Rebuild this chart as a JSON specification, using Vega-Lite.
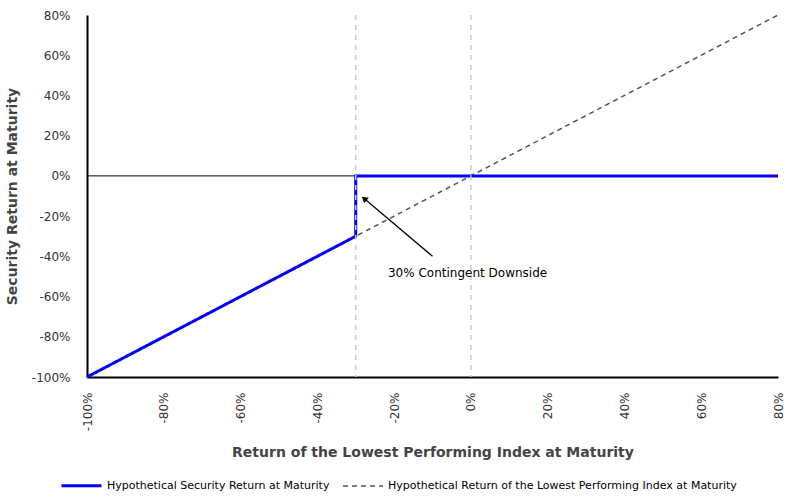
{
  "$schema": "https://vega.github.io/schema/vega-lite/v6.json",
  "width": 691,
  "height": 362,
  "autosize": {"type": "none"},
  "padding": {"left": 87, "top": 15, "right": 22, "bottom": 123},
  "config": {
    "font": "DejaVu Sans",
    "view": {"stroke": null},
    "axis": {"grid": false, "ticks": false, "labelFontSize": 12, "labelColor": "#333", "titleFontSize": 14, "titleFontWeight": "bold", "titleColor": "#444", "domainColor": "#000", "domainWidth": 2}
  },
  "datasets": {
    "lines": [
      {"series": "Hypothetical Return of the Lowest Performing Index at Maturity", "ord": 1, "x": -100, "y": -100},
      {"series": "Hypothetical Return of the Lowest Performing Index at Maturity", "ord": 2, "x": 80, "y": 80},
      {"series": "Hypothetical Security Return at Maturity", "ord": 1, "x": -100, "y": -100},
      {"series": "Hypothetical Security Return at Maturity", "ord": 2, "x": -30, "y": -30},
      {"series": "Hypothetical Security Return at Maturity", "ord": 3, "x": -30, "y": 0},
      {"series": "Hypothetical Security Return at Maturity", "ord": 4, "x": 80, "y": 0}
    ],
    "vgrid": [{"x": -30}, {"x": 0}],
    "arrow": [{"x": -10, "y": -40, "x2": -27.8, "y2": -11.3}],
    "note": [{"x": -21.6, "y": -48.1, "label": "30% Contingent Downside"}]
  },
  "layer": [
    {
      "data": {"values": [{"y": 0}]},
      "mark": {"type": "rule", "color": "#000", "strokeWidth": 1},
      "encoding": {"y": {"field": "y", "type": "quantitative"}}
    },
    {
      "data": {"name": "lines"},
      "mark": {"type": "line"},
      "encoding": {
        "x": {
          "field": "x", "type": "quantitative",
          "scale": {"domain": [-100, 80], "nice": false, "zero": false},
          "axis": {"values": [-100, -80, -60, -40, -20, 0, 20, 40, 60, 80], "labelExpr": "datum.value + '%'", "labelAngle": -90, "labelPadding": 15, "titlePadding": 15, "title": "Return of the Lowest Performing Index at Maturity"}
        },
        "y": {
          "field": "y", "type": "quantitative",
          "scale": {"domain": [-100, 80], "nice": false, "zero": false},
          "axis": {"values": [-100, -80, -60, -40, -20, 0, 20, 40, 60, 80], "labelExpr": "datum.value + '%'", "labelPadding": 17, "titlePadding": 12, "title": "Security Return at Maturity"}
        },
        "order": {"field": "ord", "type": "quantitative"},
        "color": {
          "field": "series", "type": "nominal",
          "scale": {"domain": ["Hypothetical Security Return at Maturity", "Hypothetical Return of the Lowest Performing Index at Maturity"], "range": ["#0000ff", "#555555"]},
          "legend": {"title": null, "orient": "none", "legendX": -27, "legendY": 449, "direction": "horizontal", "symbolType": "stroke", "symbolSize": 1600, "labelFontSize": 11, "labelColor": "#000", "labelOffset": 4, "columnPadding": 10, "labelLimit": 0}
        },
        "strokeDash": {
          "field": "series", "type": "nominal",
          "scale": {"domain": ["Hypothetical Security Return at Maturity", "Hypothetical Return of the Lowest Performing Index at Maturity"], "range": [[1, 0], [5, 4]]}
        },
        "strokeWidth": {
          "field": "series", "type": "nominal",
          "scale": {"domain": ["Hypothetical Security Return at Maturity", "Hypothetical Return of the Lowest Performing Index at Maturity"], "range": [3, 1.5]}
        }
      }
    },
    {
      "data": {"name": "vgrid"},
      "mark": {"type": "rule", "color": "#cccccc", "strokeDash": [5, 5], "strokeWidth": 1.5},
      "encoding": {"x": {"field": "x", "type": "quantitative"}}
    },
    {
      "data": {"name": "arrow"},
      "mark": {"type": "rule", "color": "#000", "strokeWidth": 1.3},
      "encoding": {
        "x": {"field": "x", "type": "quantitative"},
        "y": {"field": "y", "type": "quantitative"},
        "x2": {"field": "x2"},
        "y2": {"field": "y2"}
      }
    },
    {
      "data": {"name": "arrow"},
      "mark": {"type": "point", "shape": "triangle-up", "filled": true, "color": "#000", "size": 50, "angle": 310, "opacity": 1},
      "encoding": {
        "x": {"field": "x2", "type": "quantitative"},
        "y": {"field": "y2", "type": "quantitative"}
      }
    },
    {
      "data": {"name": "note"},
      "mark": {"type": "text", "align": "left", "baseline": "middle", "fontSize": 12, "color": "#000"},
      "encoding": {
        "x": {"field": "x", "type": "quantitative"},
        "y": {"field": "y", "type": "quantitative"},
        "text": {"field": "label"}
      }
    }
  ]
}
